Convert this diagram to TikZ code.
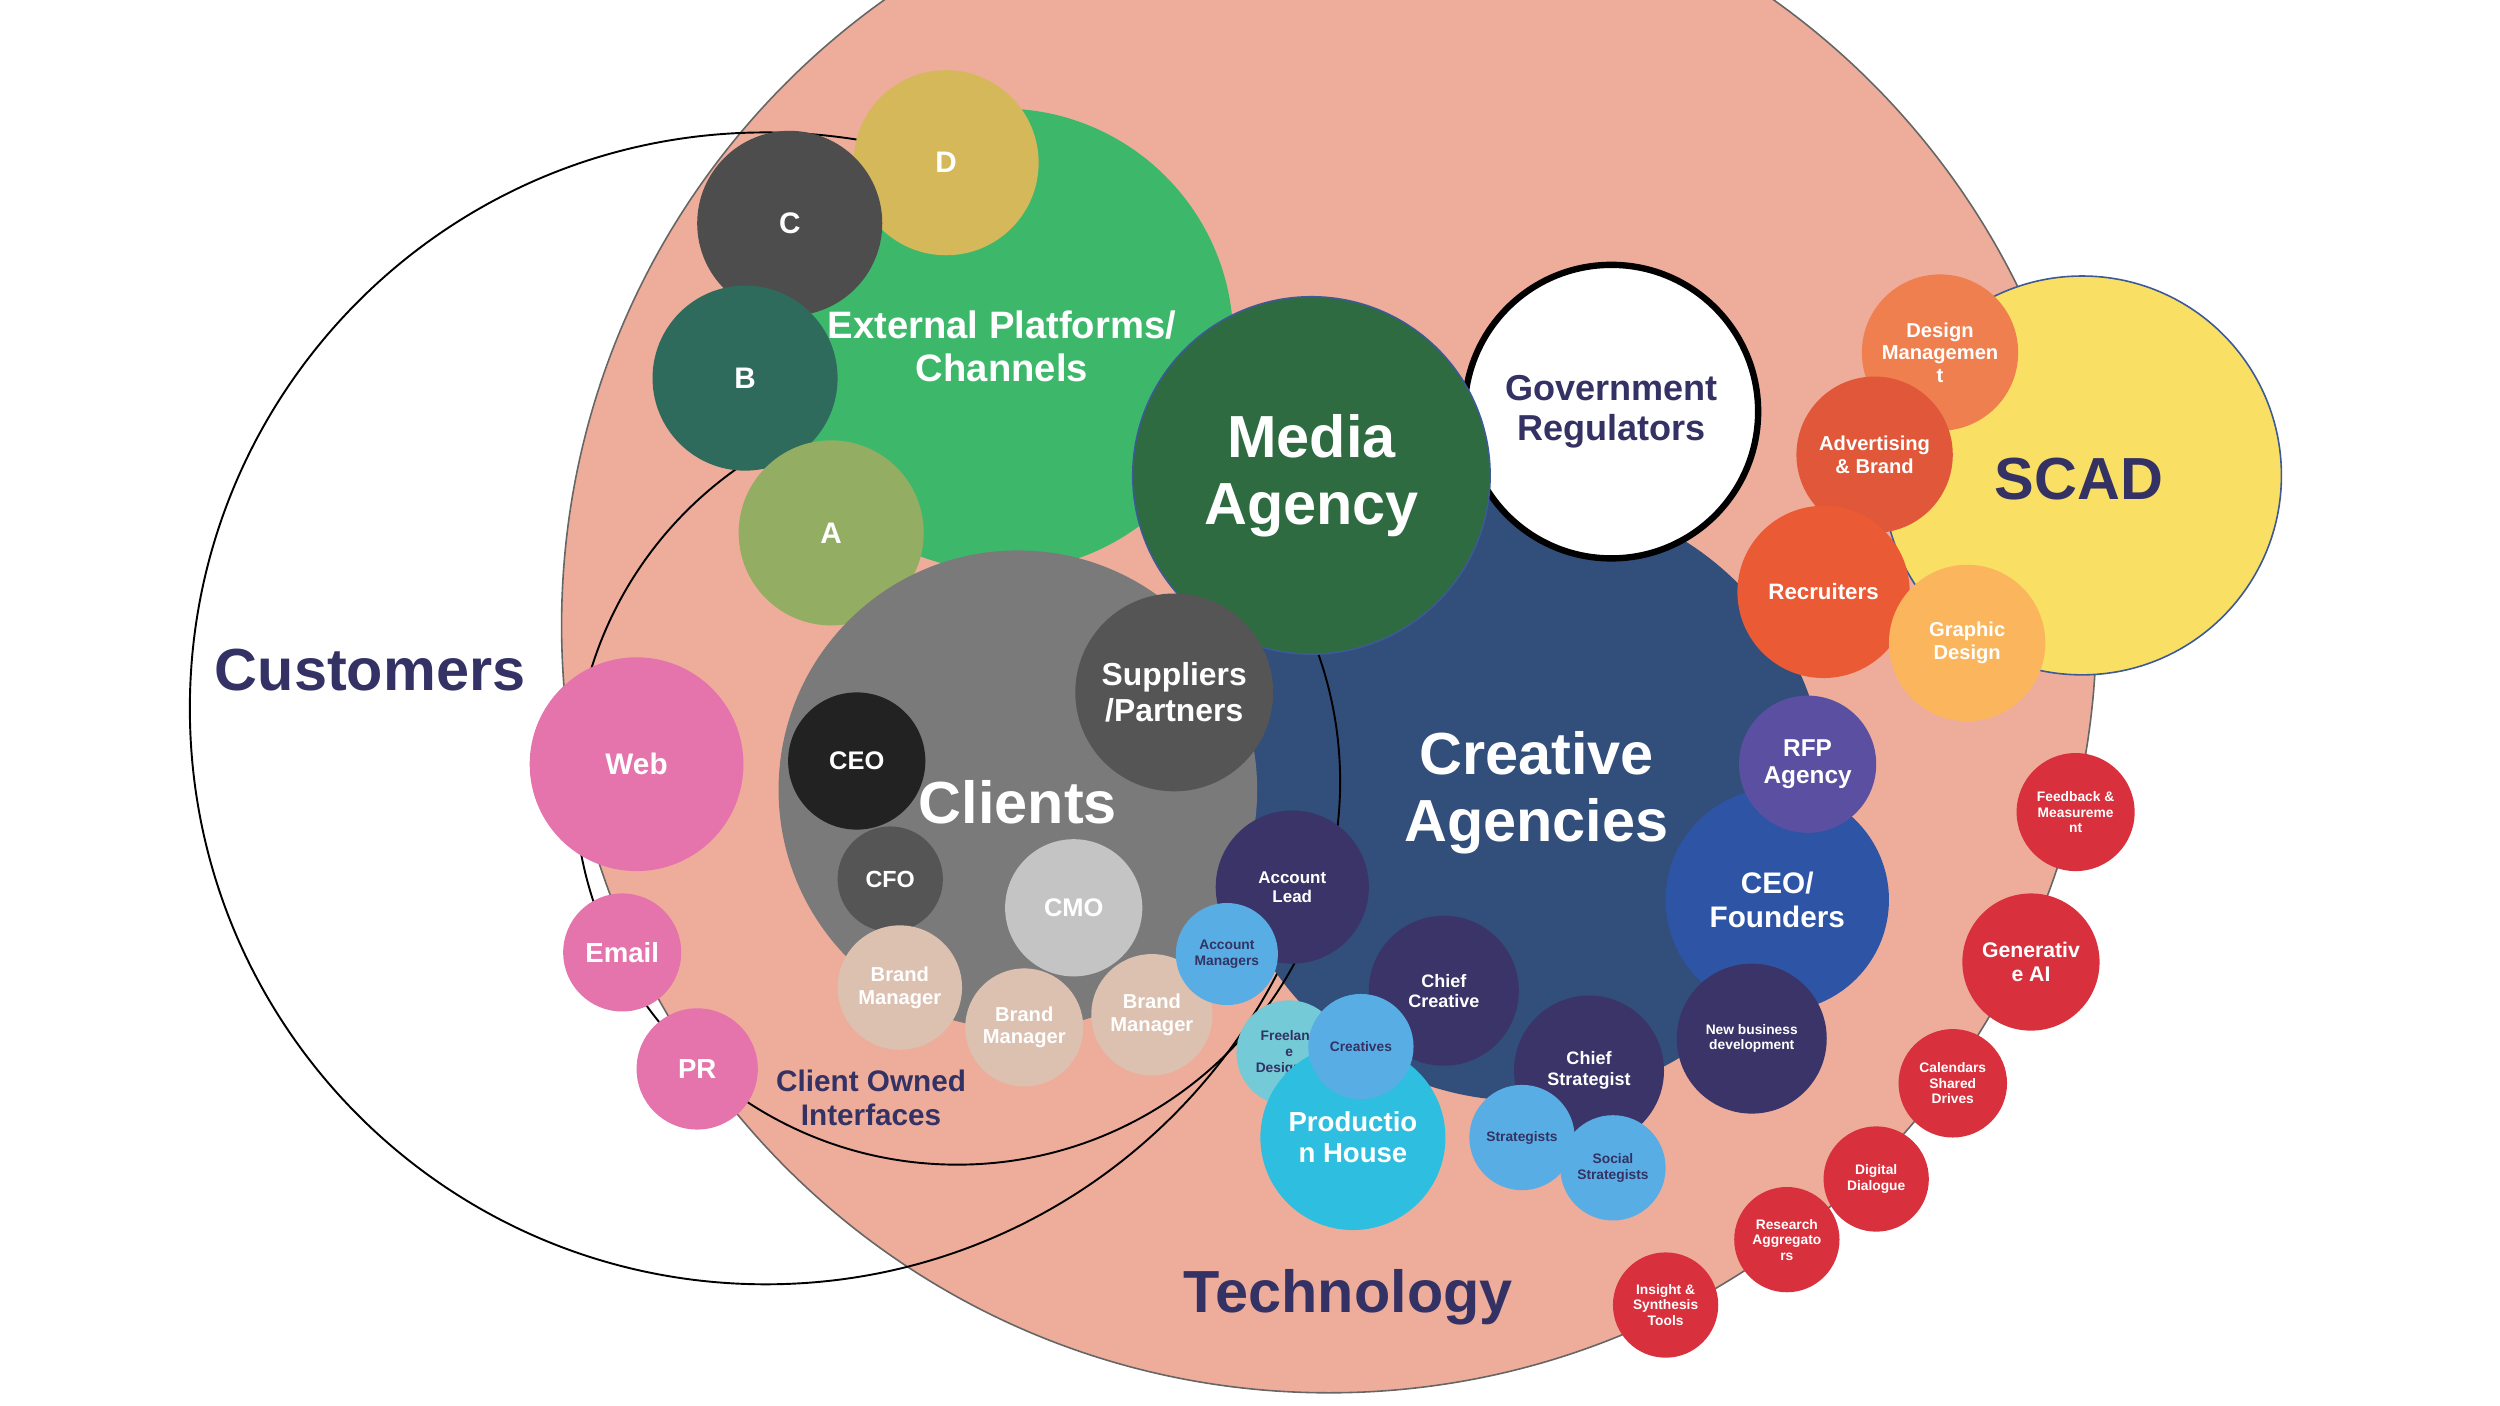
\documentclass[tikz,border=0pt]{standalone}
\usepackage{fontspec}
\setmainfont{Liberation Sans}
\begin{document}
\begin{tikzpicture}[x=1pt,y=-1pt,
 c/.style={circle,inner sep=0pt,font=\bfseries,text=white,align=center},
 fs/.style={font=\bfseries\fontsize{1.33\dimexpr #1pt\relax}{1.5\dimexpr #1pt\relax}\selectfont}]
\definecolor{salmon}{HTML}{EDAD9A}
\definecolor{navy}{HTML}{343264}
\definecolor{rd}{HTML}{D9303D}
\definecolor{lb}{HTML}{58AEE4}
\definecolor{pur}{HTML}{3A3468}
\definecolor{bm}{HTML}{DCC0B0}
\useasboundingbox (0,0) rectangle (1567,881);
\clip (0,0) rectangle (1567,881);
\fill[salmon,draw=gray!80!black,line width=1] (833,392) circle (481);
\draw[black,line width=1.2] (480,444) circle (361);
% creative agencies
\node[c,fill={rgb,255:red,50;green,78;blue,123},minimum size=380] (cre) at (955,500) {};
\draw[black,line width=1.2] (600,490) circle (240);
% external platforms
\node[c,fill={rgb,255:red,61;green,184;blue,107},minimum size=290] (ext) at (628,213) {};
\node[c,fill={rgb,255:red,212;green,184;blue,90},minimum size=116,fs=14] (d) at (593,102) {D};
\node[c,fill={rgb,255:red,77;green,77;blue,77},minimum size=116,fs=14] (cc) at (495,140) {C};
\node[c,fill={rgb,255:red,46;green,107;blue,92},minimum size=116,fs=14] (b) at (467,237) {B};
\node[c,fill={rgb,255:red,147;green,173;blue,98},minimum size=116,fs=14] (a) at (521,334) {A};
\node[fs=18,text=white,align=center] at (628,217) {External Platforms/\\Channels};
\node[c,fill=white,draw=black,line width=4,minimum size=184,text=navy,fs=17] (gov) at (1010,258) {Government\\Regulators};
\node[c,fill={rgb,255:red,46;green,107;blue,64},draw={rgb,255:red,60;green,90;blue,150},line width=1,minimum size=224,fs=28] (med) at (822,298) {Media\\Agency};
\node[fs=28,text=white,align=center] at (963,497) {Creative\\Agencies};
% clients
\node[c,fill={rgb,255:red,122;green,122;blue,122},minimum size=300] (cl) at (638,495) {};
\node[fs=28,text=white] at (638,503) {Clients};
\node[c,fill={rgb,255:red,85;green,85;blue,85},minimum size=124,fs=15] (sup) at (736,434) {Suppliers\\/Partners};
\node[c,fill={rgb,255:red,34;green,34;blue,34},minimum size=86,fs=12] (ceo) at (537,477) {CEO};
\node[c,fill={rgb,255:red,85;green,85;blue,85},minimum size=66,fs=11] (cfo) at (558,551) {CFO};
\node[c,fill={rgb,255:red,196;green,196;blue,196},minimum size=86,fs=12] (cmo) at (673,569) {CMO};
\node[c,fill=bm,minimum size=78,fs=9.5] (bm1) at (564,619) {Brand\\Manager};
\node[c,fill=bm,minimum size=74,fs=9.5] (bm2) at (642,644) {Brand\\Manager};
\node[c,fill=bm,minimum size=76,fs=9.5] (bm3) at (722,636) {Brand\\Manager};
% web etc
\node[c,fill={rgb,255:red,229;green,116;blue,173},minimum size=134,fs=14] (web) at (399,479) {Web};
\node[c,fill={rgb,255:red,229;green,116;blue,173},minimum size=74,fs=13] (em) at (390,597) {Email};
\node[c,fill={rgb,255:red,229;green,116;blue,173},minimum size=76,fs=13] (pr) at (437,670) {PR};
% SCAD
\node[c,fill={rgb,255:red,249;green,223;blue,99},draw={rgb,255:red,60;green,90;blue,150},line width=1,minimum size=250] (scad) at (1305,298) {};
\node[fs=28,text=navy] at (1303,300) {SCAD};
\node[c,fill={rgb,255:red,239;green,127;blue,79},minimum size=98,fs=9.5] (dm) at (1216,221) {Design\\Managemen\\t};
\node[c,fill={rgb,255:red,224;green,87;blue,58},minimum size=98,fs=9.5] (ab) at (1175,285) {Advertising\\\& Brand};
\node[c,fill={rgb,255:red,234;green,90;blue,53},minimum size=108,fs=10.5] (rec) at (1143,371) {Recruiters};
\node[c,fill={rgb,255:red,251;green,182;blue,93},minimum size=98,fs=9.5] (gd) at (1233,403) {Graphic\\Design};
% creative agency staff
\node[c,fill={rgb,255:red,46;green,85;blue,165},minimum size=140,fs=14] (ceof) at (1114,564) {CEO/\\Founders};
\node[c,fill={rgb,255:red,90;green,79;blue,160},minimum size=86,fs=11.5] (rfp) at (1133,479) {RFP\\Agency};
\node[c,fill=pur,minimum size=94,fs=6.5] (nbd) at (1098,651) {New business\\development};
\node[c,fill=pur,minimum size=94,fs=8.5] (cs) at (996,671) {Chief\\Strategist};
\node[c,fill=pur,minimum size=94,fs=8.5] (cc2) at (905,621) {Chief\\Creative};
\node[c,fill=pur,minimum size=96,fs=8] (al) at (810,556) {Account\\Lead};
\node[c,fill=lb,minimum size=64,fs=6.5,text=navy] (am) at (769,598) {Account\\Managers};
\node[c,fill={rgb,255:red,116;green,202;blue,214},minimum size=66,fs=6.5,text=navy] (fd) at (808,660) {Freelanc\\e\\Designers};
\node[c,fill={rgb,255:red,46;green,191;blue,224},minimum size=116,fs=13] (ph) at (848,713) {Productio\\n House};
\node[c,fill=lb,minimum size=66,fs=6.5,text=navy] (crv) at (853,656) {Creatives};
\node[c,fill=lb,minimum size=66,fs=6.5,text=navy] (st) at (954,713) {Strategists};
\node[c,fill=lb,minimum size=66,fs=6.5,text=navy] (ss) at (1011,732) {Social\\Strategists};
% red
\node[c,fill=rd,minimum size=74,fs=6.5] (r1) at (1301,509) {Feedback \&\\Measureme\\nt};
\node[c,fill=rd,minimum size=86,fs=10] (r2) at (1273,603) {Generativ\\e AI};
\node[c,fill=rd,minimum size=68,fs=6.5] (r3) at (1224,679) {Calendars\\Shared\\Drives};
\node[c,fill=rd,minimum size=66,fs=6.5] (r4) at (1176,739) {Digital\\Dialogue};
\node[c,fill=rd,minimum size=66,fs=6.5] (r5) at (1120,777) {Research\\Aggregato\\rs};
\node[c,fill=rd,minimum size=66,fs=6.5] (r6) at (1044,818) {Insight \&\\Synthesis\\Tools};
% labels
\node[fs=28,text=navy] (cust) at (232,420) {Customers};
\node[fs=28,text=navy] (tech) at (845,813) {Technology};
\node[fs=14,text=navy,align=center] (coi) at (546,688) {Client Owned\\Interfaces};
\end{tikzpicture}
\end{document}
